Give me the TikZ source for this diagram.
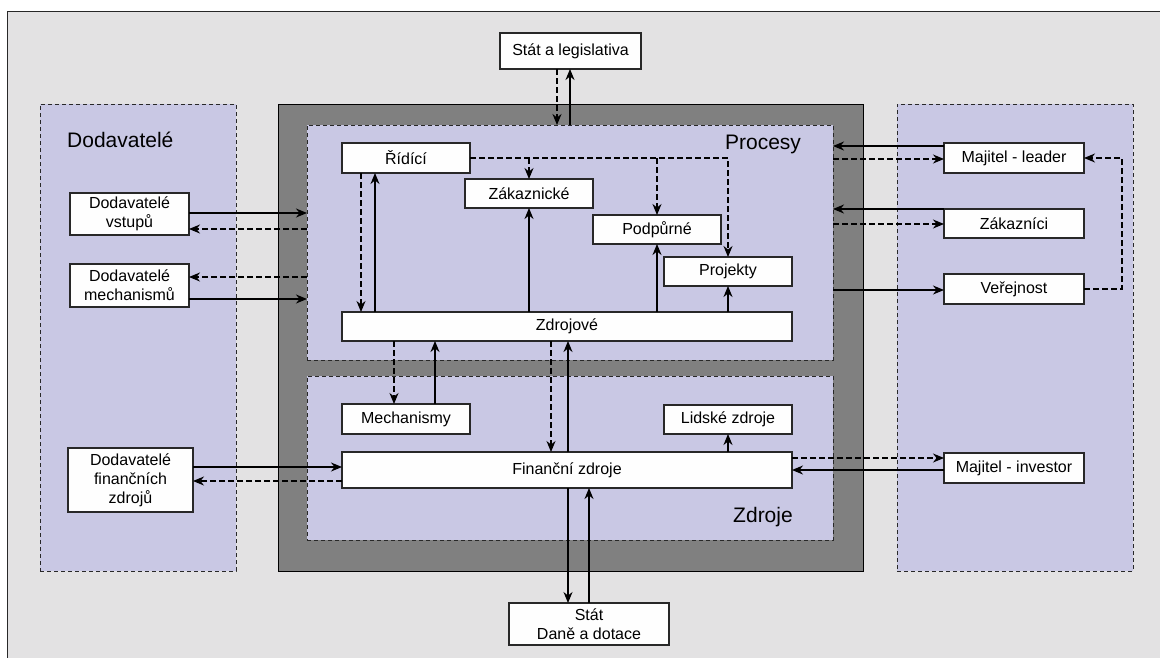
\documentclass[tikz,border=0pt]{standalone}
\usepackage{fontspec}
\setmainfont{Liberation Sans}
\usetikzlibrary{arrows.meta}

\definecolor{bggray}{RGB}{227,226,227}
\definecolor{lavender}{RGB}{201,200,228}
\definecolor{coregray}{RGB}{128,128,128}
\definecolor{boxfill}{RGB}{254,254,254}
\definecolor{edge}{RGB}{40,40,40}

\tikzset{
  tip/.tip={Stealth[length=11pt,width=9pt,inset=3.5pt]},
  region/.style={draw=edge, line width=1pt, dash pattern=on 4pt off 3pt,
    fill=lavender, inner sep=0pt, outer sep=0pt},
  stepbox/.style={draw=edge, line width=1.4pt, fill=boxfill, inner sep=0pt,
    outer sep=0pt, align=center, font=\fontsize{16}{19}\selectfont},
  biglabel/.style={inner sep=0pt, font=\fontsize{21}{25}\selectfont},
  flow/.style={draw=black, line width=1.2pt, -tip},
  back/.style={draw=black, line width=1.2pt, dash pattern=on 6pt off 3pt, -tip},
}

\begin{document}
\begin{tikzpicture}[x=1pt, y=-1pt]
  \useasboundingbox (0,0) rectangle (1160,657);
  \clip (0,0) rectangle (1160,657);

  % page background
  \fill[bggray] (7,11) rectangle (1180,680);
  \draw[edge, line width=1pt] (7,680) -- (7,11) -- (1180,11);

  % outer groups
  \node[region, minimum width=196, minimum height=467] (dod) at (138,337.5) {};
  \node[region, minimum width=236, minimum height=467] (own) at (1015,337.5) {};
  \node[draw=black, line width=1pt, fill=coregray, inner sep=0pt, outer sep=0pt,
        minimum width=585, minimum height=467] (core) at (570.5,337.5) {};
  \node[region, minimum width=526, minimum height=235] (procesy) at (570,242.5) {};
  \node[region, minimum width=526, minimum height=164] (zdroje) at (570,458) {};

  % group titles
  \node[biglabel, anchor=west] (tdod) at (67,140) {Dodavatelé};
  \node[biglabel] (tproc) at (763,144) {Procesy};
  \node[biglabel] (tzdr) at (763,517) {Zdroje};

  % external parties
  \node[stepbox, minimum width=141, minimum height=36] (stat) at (570.5,51) {Stát a legislativa};
  \node[stepbox, minimum width=160, minimum height=42] (dan) at (589,624) {Stát\\Daně a dotace};
  \node[stepbox, minimum width=119, minimum height=42] (dvst) at (129.5,214) {Dodavatelé\\vstupů};
  \node[stepbox, minimum width=119, minimum height=43] (dmech) at (129.5,285.5) {Dodavatelé\\mechanismů};
  \node[stepbox, minimum width=125, minimum height=64] (dfin) at (130.5,480) {Dodavatelé\\finančních\\zdrojů};
  \node[stepbox, minimum width=140, minimum height=30] (leader) at (1014,158) {Majitel - leader};
  \node[stepbox, minimum width=140, minimum height=29] (zakaznici) at (1014,223.5) {Zákazníci};
  \node[stepbox, minimum width=140, minimum height=30] (verejnost) at (1014,289) {Veřejnost};
  \node[stepbox, minimum width=140, minimum height=30] (investor) at (1014,468) {Majitel - investor};

  % processes
  \node[stepbox, minimum width=128, minimum height=30] (ridici) at (406,158) {Řídící};
  \node[stepbox, minimum width=128, minimum height=29] (zak) at (529,193.5) {Zákaznické};
  \node[stepbox, minimum width=128, minimum height=29] (podp) at (657,229.5) {Podpůrné};
  \node[stepbox, minimum width=128, minimum height=29] (proj) at (728,271.5) {Projekty};
  \node[stepbox, minimum width=450, minimum height=29] (zdroj) at (567,326.5) {Zdrojové};

  % resources
  \node[stepbox, minimum width=128, minimum height=30] (mech) at (406,419) {Mechanismy};
  \node[stepbox, minimum width=128, minimum height=29] (lidske) at (728,419.5) {Lidské zdroje};
  \node[stepbox, minimum width=450, minimum height=36] (fin) at (567,470) {Finanční zdroje};

  % state and legislation
  \draw[back] (stat.south -| 557,0) -- (procesy.north -| 557,0);
  \draw[flow] (procesy.north -| 570,0) -- (stat.south -| 570,0);

  % suppliers
  \draw[flow] (dvst.east |- 0,213) -- (procesy.west |- 0,213);
  \draw[back] (procesy.west |- 0,229) -- (dvst.east |- 0,229);
  \draw[back] (procesy.west |- 0,277) -- (dmech.east |- 0,277);
  \draw[flow] (dmech.east |- 0,299) -- (procesy.west |- 0,299);
  \draw[flow] (dfin.east |- 0,467) -- (fin.west |- 0,467);
  \draw[back] (fin.west |- 0,481) -- (dfin.east |- 0,481);

  % owners, customers, public
  \draw[flow] (leader.west |- 0,146) -- (procesy.east |- 0,146);
  \draw[back] (procesy.east |- 0,159) -- (leader.west |- 0,159);
  \draw[flow] (zakaznici.west |- 0,209) -- (procesy.east |- 0,209);
  \draw[back] (procesy.east |- 0,224) -- (zakaznici.west |- 0,224);
  \draw[flow] (procesy.east |- 0,290) -- (verejnost.west |- 0,290);
  \draw[back] (verejnost.east) -| ([xshift=38pt]leader.east) -- (leader.east);
  \draw[back] (fin.east |- 0,458) -- (investor.west |- 0,458);
  \draw[flow] (investor.west |- 0,470) -- (fin.east |- 0,470);

  % inside the processes
  \draw[back] (ridici.south -| 361,0) -- (zdroj.north -| 361,0);
  \draw[flow] (zdroj.north -| 375,0) -- (ridici.south -| 375,0);
  \draw[back] (ridici.east) -| (proj.north);
  \draw[back] (ridici.east -| zak.north) -- (zak.north);
  \draw[back] (ridici.east -| podp.north) -- (podp.north);
  \draw[flow] (zdroj.north -| zak.south) -- (zak.south);
  \draw[flow] (zdroj.north -| podp.south) -- (podp.south);
  \draw[flow] (zdroj.north -| proj.south) -- (proj.south);

  % between processes and resources
  \draw[back] (zdroj.south -| 394,0) -- (mech.north -| 394,0);
  \draw[flow] (mech.north -| 435,0) -- (zdroj.south -| 435,0);
  \draw[back] (zdroj.south -| 551,0) -- (fin.north -| 551,0);
  \draw[flow] (fin.north -| 568,0) -- (zdroj.south -| 568,0);
  \draw[flow] (fin.north -| lidske.south) -- (lidske.south);

  % state finance
  \draw[flow] (fin.south -| 568,0) -- (dan.north -| 568,0);
  \draw[flow] (dan.north) -- (fin.south -| dan.north);
\end{tikzpicture}
\end{document}
